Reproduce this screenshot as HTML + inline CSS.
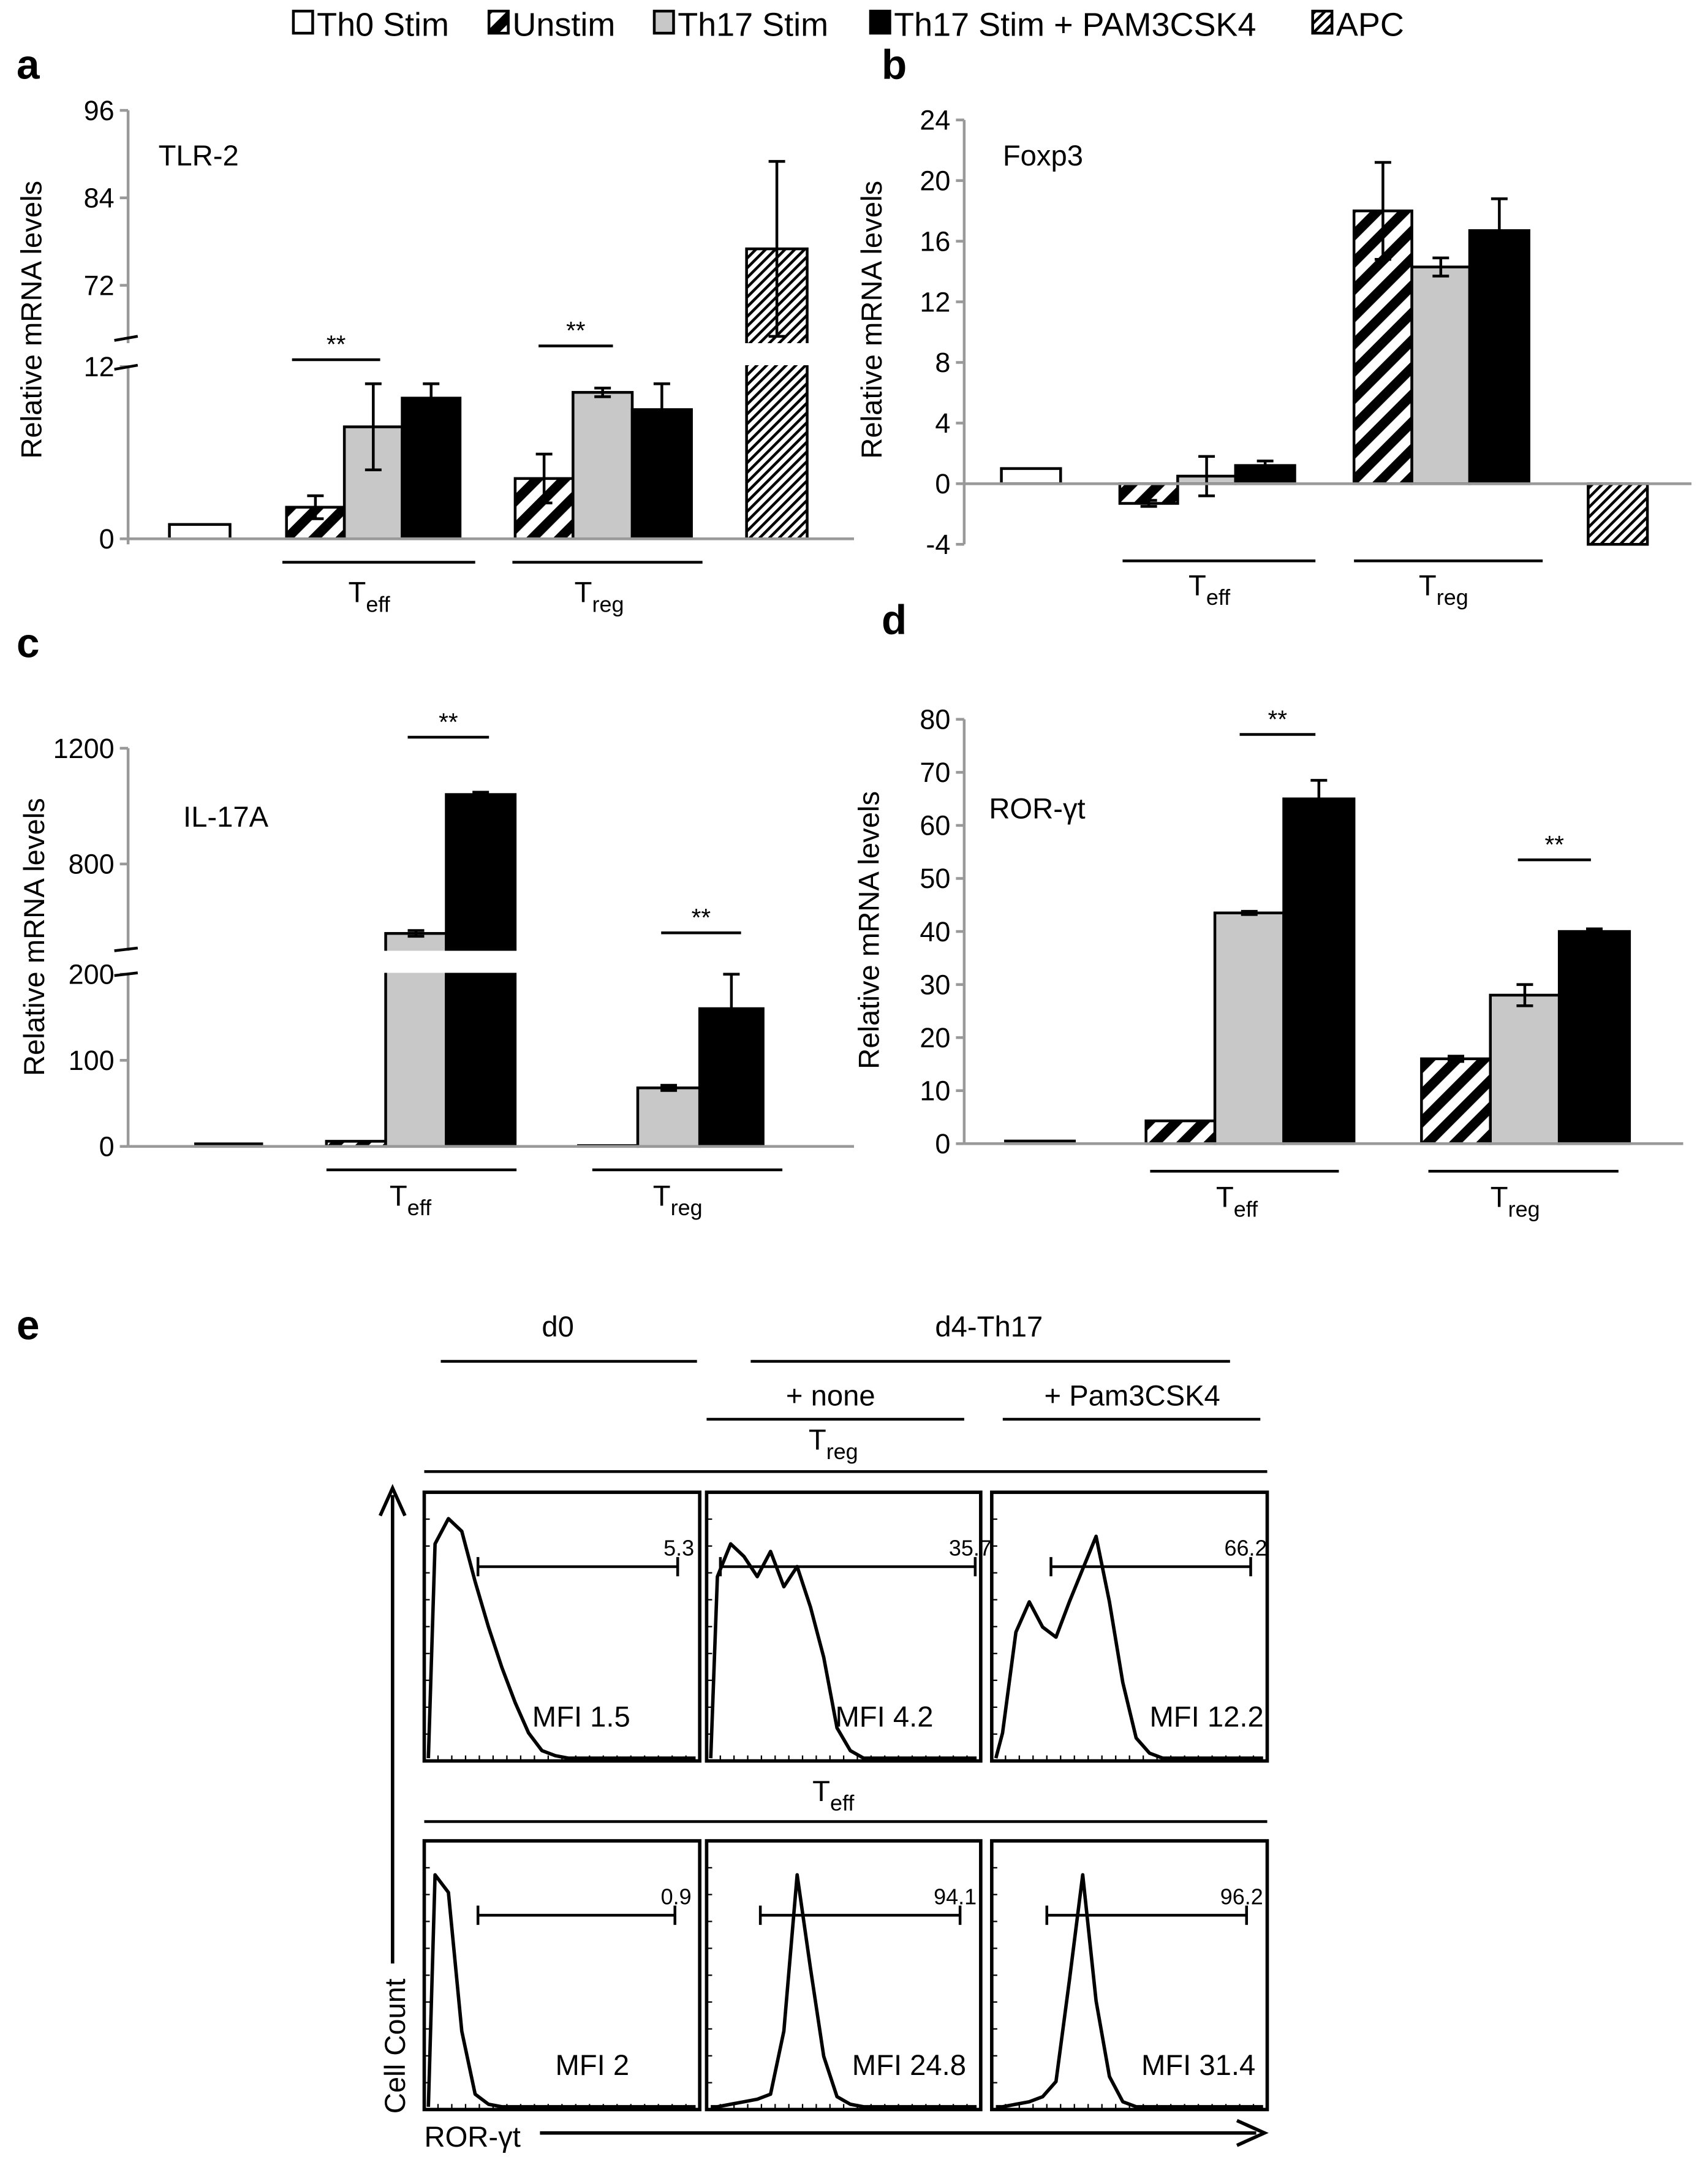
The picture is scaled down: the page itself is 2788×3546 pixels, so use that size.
<!DOCTYPE html>
<html><head><meta charset="utf-8"><style>
html,body{margin:0;padding:0;background:#fff}
svg{display:block}
text{font-family:"Liberation Sans",sans-serif;fill:#000}
</style></head><body>
<svg id="fig" width="2788" height="3546" viewBox="0 0 1240 1577" xmlns="http://www.w3.org/2000/svg">
<defs>
<pattern id="stripe" patternUnits="userSpaceOnUse" width="14" height="14" patternTransform="rotate(45)"><rect width="14" height="14" fill="#fff"/><rect width="7" height="14" fill="#000"/></pattern>
<pattern id="fine" patternUnits="userSpaceOnUse" width="5" height="5" patternTransform="rotate(45)"><rect width="5" height="5" fill="#fff"/><rect width="2" height="5" fill="#000"/></pattern>
</defs>
<g id="legend" font-size="24">
 <g><rect x="213" y="8" width="14" height="16" fill="#fff" stroke="#000" stroke-width="2"/><text x="230" y="26">Th0 Stim</text></g>
 <g><rect x="355" y="8" width="14" height="16" fill="url(#stripe)" stroke="#000" stroke-width="2"/><text x="372" y="26">Unstim</text></g>
 <g><rect x="475" y="8" width="14" height="16" fill="#c8c8c8" stroke="#000" stroke-width="2"/><text x="492" y="26">Th17 Stim</text></g>
 <g><rect x="632" y="8" width="14" height="16" fill="#000" stroke="#000" stroke-width="2"/><text x="649" y="26">Th17 Stim + PAM3CSK4</text></g>
 <g><rect x="953" y="8" width="14" height="16" fill="url(#fine)" stroke="#000" stroke-width="2"/><text x="970" y="26">APC</text></g>
</g>
<g id="charts"></g>
<g id="flow"></g>
</svg>
<script>
// ---------- DATA ----------
const aValues=[1,2.2,7.8,9.8,4.2,10.2,9.0,77];
const aErr=[0,0.8,3,1,1.7,0.3,1.8,12];
const aLowTicks=[0,12];const aHighTicks=[72,84,96];
const bValues=[1,-1.3,0.5,1.2,18,14.3,16.7,-4];
const bErr=[0,0.2,1.3,0.3,3.2,0.6,2.1,0];
const bTicks=[-4,0,4,8,12,16,20,24];
const cValues=[3,6,560,1040,1,68,160];
const cErr=[0,0,10,8,0,3,40];
const cLowTicks=[0,100,200];const cHighTicks=[800,1200];
const dValues=[0.5,4.3,43.5,65,16,28,40];
const dErr=[0,0,0.3,3.5,0.5,2,0.5];
const dTicks=[0,10,20,30,40,50,60,70,80];
const hist=[
 [0.85,0.95,0.9,0.7,0.52,0.36,0.22,0.1,0.03,0.01,0,0,0,0,0,0,0,0,0,0],
 [0.72,0.85,0.8,0.72,0.82,0.68,0.76,0.6,0.4,0.12,0.03,0,0,0,0,0,0,0,0,0],
 [0.1,0.5,0.62,0.52,0.48,0.62,0.75,0.88,0.62,0.3,0.08,0.02,0,0,0,0,0,0,0,0],
 [0.92,0.85,0.3,0.05,0.01,0,0,0,0,0,0,0,0,0,0,0,0,0,0,0],
 [0,0.01,0.02,0.03,0.05,0.3,0.92,0.55,0.2,0.04,0.01,0,0,0,0,0,0,0,0,0],
 [0,0.01,0.02,0.04,0.1,0.5,0.92,0.42,0.12,0.02,0,0,0,0,0,0,0,0,0,0]];
const gateLabels=["5.3","35.7","66.2","0.9","94.1","96.2"];
const mfiLabels=["MFI 1.5","MFI 4.2","MFI 12.2","MFI 2","MFI 24.8","MFI 31.4"];

const NS="http://www.w3.org/2000/svg";
const charts=document.getElementById('charts');
function mk(tag,attrs,parent,txt){const e=document.createElementNS(NS,tag);for(const k in attrs)e.setAttribute(k,attrs[k]);if(txt!==undefined)e.textContent=txt;(parent||charts).appendChild(e);return e;}
const fills={th0:'#fff',un:'url(#stripe)',th17:'#c8c8c8',pam:'#000',apc:'url(#fine)'};

function drawBars(values,errs,xs,w,types,y,g,x0,breakY){
 values.forEach((v,i)=>{
  const top=y(Math.max(v,0)),bot=y(Math.min(v,0));
  const r=mk('rect',{x:xs[i],y:top,width:w[i],height:Math.max(bot-top,0.5),fill:fills[types[i]],stroke:'#000','stroke-width':2},g);
  
  
  if(errs[i]>0){const cx=xs[i]+w[i]/2;const y1=y(v+errs[i]),y2=y(v-errs[i]);
   const e=mk('path',{d:`M${cx} ${y1}V${y2}M${cx-6} ${y1}H${cx+6}M${cx-6} ${y2}H${cx+6}`,stroke:'#000','stroke-width':2,fill:'none'},g);
   
   }
 });
 if(breakY){const b=mk('rect',{x:x0+5,y:breakY[0],width:560,height:breakY[1]-breakY[0],fill:'#fff'},g);
  
  }
}
function yaxis(g,x,ticks,y,y0,y1){
 mk('line',{x1:x,y1:y0,x2:x,y2:y1,stroke:'#999','stroke-width':2},g);
 ticks.forEach(t=>{mk('line',{x1:x-6,y1:y(t),x2:x,y2:y(t),stroke:'#999','stroke-width':2},g);
  const tl=mk('text',{x:x-10,y:y(t)+7,'text-anchor':'end','font-size':20},g,String(t));
  
  });
}
function ytitle(g,x,y){const t=mk('text',{x:x,y:y,'text-anchor':'middle','font-size':21,transform:`rotate(-90 ${x} ${y})`},g,'Relative mRNA levels');
 }
function sub(g,x,y,main,s,name){const t=mk('text',{x:x,y:y,'text-anchor':'middle','font-size':21},g);
 mk('tspan',{},t,main);mk('tspan',{dy:7,'font-size':16},t,s);}
function line(g,x1,x2,y,name){const l=mk('line',{x1:x1,x2:x2,y1:y,y2:y,stroke:'#000','stroke-width':2},g);}
function star(g,x1,x2,y){line(g,x1,x2,y,'significance-line');const t=mk('text',{x:(x1+x2)/2,y:y-5,'text-anchor':'middle','font-size':18},g,'**');}
function panelLabel(g,x,y,s){const t=mk('text',{x:x,y:y,'font-size':30,'font-weight':'bold'},g,s);}
function group(name){const g=mk('g',{});return g;}

(function(){const g=group('panel-a-tlr2');
 const y=v=>v<=12?391-v*10.42:207-(v-72)*5.29;
 const xs=[123,208,250,292,374,416,459,542],w=[44,42,42,42,42,43,43,44];
 const types=['th0','un','th17','pam','un','th17','pam','apc'];
 drawBars(aValues,aErr,xs,w,types,y,g,93,[249,265]);
 yaxis(g,93,aLowTicks.concat(aHighTicks),y,80,395);
 mk('rect',{x:86,y:249,width:14,height:16,fill:'#fff'},g);
 mk('path',{d:'M83 247L100 244M83 268L100 265',stroke:'#000','stroke-width':2},g);
 mk('line',{x1:93,y1:391,x2:620,y2:391,stroke:'#999','stroke-width':2},g);
 panelLabel(g,12,57,'a');ytitle(g,30,232);
 mk('text',{x:115,y:120,'font-size':21},g,'TLR-2');
 line(g,205,345,408,'teff-group-line');line(g,372,510,408,'treg-group-line');
 sub(g,268,437,'T','eff','teff-label');sub(g,435,437,'T','reg','treg-label');
 star(g,212,276,261);star(g,391,445,251);
})();
(function(){const g=group('panel-b-foxp3');
 const y=v=>351-v*11;
 const xs=[727,813,855,897,983,1025,1067,1153],w=[43,42,42,43,42,42,43,43];
 const types=['th0','un','th17','pam','un','th17','pam','apc'];
 drawBars(bValues,bErr,xs,w,types,y,g);
 yaxis(g,700,bTicks,y,87,395);
 mk('line',{x1:700,y1:351,x2:1228,y2:351,stroke:'#999','stroke-width':2},g);
 panelLabel(g,640,57,'b');ytitle(g,640,232);
 mk('text',{x:728,y:120,'font-size':21},g,'Foxp3');
 line(g,815,955,407,'teff-group-line');line(g,983,1120,407,'treg-group-line');
 sub(g,878,432,'T','eff','teff-label');sub(g,1048,432,'T','reg','treg-label');
})();
(function(){const g=group('panel-c-il17a');
 const y=v=>v<=200?832-v*0.625:627-(v-800)*0.21;
 const xs=[142,237,280,324,420,463,508],w=[48,43,44,50,43,45,46];
 const types=['th0','un','th17','pam','un','th17','pam'];
 drawBars(cValues,cErr,xs,w,types,y,g,93,[690,706]);
 yaxis(g,93,cLowTicks.concat(cHighTicks),y,543,832);
 mk('rect',{x:86,y:690,width:14,height:16,fill:'#fff'},g);
 mk('path',{d:'M83 690L100 688M83 708L100 706',stroke:'#000','stroke-width':2},g);
 mk('line',{x1:93,y1:832,x2:620,y2:832,stroke:'#999','stroke-width':2},g);
 panelLabel(g,12,477,'c');ytitle(g,32,680);
 mk('text',{x:133,y:600,'font-size':21},g,'IL-17A');
 line(g,237,375,849,'teff-group-line');line(g,430,568,849,'treg-group-line');
 sub(g,298,875,'T','eff','teff-label');sub(g,492,875,'T','reg','treg-label');
 star(g,296,355,535);star(g,480,538,677);
})();
(function(){const g=group('panel-d-rorgt');
 const y=v=>830-v*3.85;
 const xs=[730,832,882,932,1032,1082,1132],w=[50,50,50,51,50,50,51];
 const types=['th0','un','th17','pam','un','th17','pam'];
 drawBars(dValues,dErr,xs,w,types,y,g);
 yaxis(g,700,dTicks,y,522,830);
 mk('line',{x1:700,y1:830,x2:1222,y2:830,stroke:'#999','stroke-width':2},g);
 panelLabel(g,640,460,'d');ytitle(g,638,675);
 mk('text',{x:718,y:594,'font-size':21},g,'ROR-γt');
 line(g,835,972,850,'teff-group-line');line(g,1037,1175,850,'treg-group-line');
 sub(g,898,876,'T','eff','teff-label');sub(g,1100,876,'T','reg','treg-label');
 star(g,900,955,533);star(g,1102,1155,624);
})();
(function(){const g=document.getElementById('flow');
 const T=(x,y,s,fs,a,name)=>{const t=mk('text',{x:x,y:y,'font-size':fs,'text-anchor':a||'middle'},g,s);return t;};
 panelLabel(g,12,972,'e');
 T(405,970,'d0',21,'middle','d0-header');line(g,320,506,988,'d0-line');
 T(718,970,'d4-Th17',21,'middle','d4-header');line(g,545,893,988,'d4-line');
 T(603,1020,'+ none',21,'middle','none-header');line(g,513,700,1030,'none-line');
 T(822,1020,'+ Pam3CSK4',21,'middle','pam-header');line(g,728,915,1030,'pam-line');
 sub(g,605,1052,'T','reg','treg-row-label');line(g,308,920,1068,'treg-row-line');
 sub(g,605,1307,'T','eff','teff-row-label');line(g,308,920,1322,'teff-row-line');
 const bx=[308,513,720],by=[1083,1336],bw=[200,199,200],bh=195;
 hist.forEach((h,i)=>{const c=i%3,r=Math.floor(i/3);const x0=bx[c],y0=by[r],w=bw[c];
  const b=mk('rect',{x:x0,y:y0,width:w,height:bh,fill:'#fff',stroke:'#000','stroke-width':2.5},g);
  
  let tk='';for(let k=1;k<20;k++){tk+=`M${x0+k*w/20} ${y0+bh}v-4`;}
  for(let k=1;k<10;k++){tk+=`M${x0} ${y0+k*bh/10}h4`;}
  mk('path',{d:tk,stroke:'#000','stroke-width':1},g);
  const bin=(w-6)/h.length;let d=`M${x0+3} ${y0+bh-2}`;
  h.forEach((v,k)=>{const yy=y0+bh-2-v*(bh-12);d+=`L${x0+3+(k+0.5)*bin} ${yy}`;});
  d+=`L${x0+w-3} ${y0+bh-2}`;
  const p=mk('path',{d:d,fill:'none',stroke:'#000','stroke-width':2.5,'stroke-linejoin':'round'},g);
  
  const gy=r===0?1137:1390;const gx1=[347,523,763,347,552,760][i],gx2=[492,708,908,490,697,905][i];
  const ga=mk('path',{d:`M${gx1} ${gy-7}v14M${gx1} ${gy}H${gx2}M${gx2} ${gy-7}v14`,stroke:'#000','stroke-width':2,fill:'none'},g);
  
  T(gx2+12,gy-8,gateLabels[i],16,'end','gate-label-'+i);
  T([422,642,876,430,660,870][i],y0+170,mfiLabels[i],21,'middle','mfi-label-'+i);
 });
 const ax=mk('path',{d:'M285 1425V1085M276 1100L285 1080L294 1100M392 1548H912M898 1539L918 1548L898 1557',stroke:'#000','stroke-width':2.5,fill:'none'},g);
 
 const cc=T(280,1485,'Cell Count',21,'middle','y-axis-title-cell-count');cc.setAttribute('transform','rotate(-90 287 1485)');cc.setAttribute('x',287);cc.setAttribute('y',1492);
 T(308,1558,'ROR-γt',21,'start','x-axis-title-ror');
})();
</script>
</body></html>
